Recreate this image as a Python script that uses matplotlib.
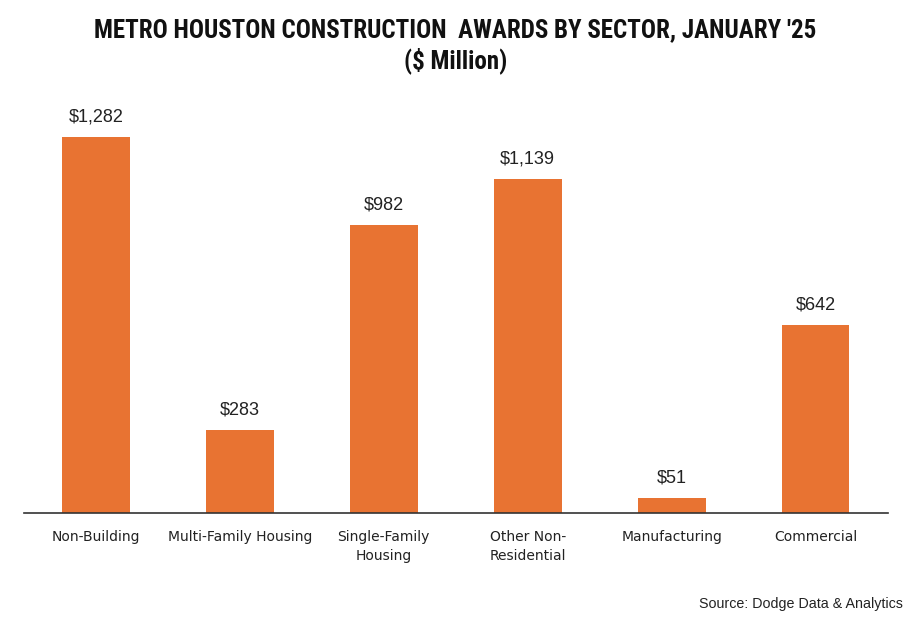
import matplotlib
matplotlib.use("Agg")
import matplotlib.pyplot as plt
from matplotlib import font_manager
from matplotlib.font_manager import FontProperties

categories = ["Non-Building", "Multi-Family Housing", "Single-Family\nHousing",
              "Other Non-\nResidential", "Manufacturing", "Commercial"]
values = [1282, 283, 982, 1139, 51, 642]
value_labels = ["$1,282", "$283", "$982", "$1,139", "$51", "$642"]

bar_color = "#E87332"

# find a bold condensed font file
cands = []
for f in font_manager.fontManager.ttflist:
    p = f.fname.lower()
    if "condensed" in p and "bold" in p and "italic" not in p and "semi" not in p and "extra" not in p:
        cands.append(f.fname)
pref = ["roboto", "noto", "opensans", "open", "dejavu", "liberation"]
cands.sort(key=lambda s: min([i for i, k in enumerate(pref) if k in s.lower()] + [99]))
if cands:
    tprop = FontProperties(fname=cands[0])
else:
    tprop = FontProperties(family="DejaVu Sans", weight="bold")

fig = plt.figure(figsize=(9.11, 6.19), dpi=100)
ax = fig.add_axes([0.0263, 0.1712, 0.948, 0.6672])
x = list(range(len(categories)))
ax.bar(x, values, width=0.47, color=bar_color)
ax.set_xlim(-0.5, 5.5)
ax.set_ylim(0, 1408)
for xi, v, lab in zip(x, values, value_labels):
    ax.annotate(lab, (xi, v), xytext=(0, 8), textcoords="offset points",
                ha="center", va="bottom", fontsize=13, color="#222222",
                family="Liberation Sans")
ax.set_xticks(x)
ax.set_xticklabels(categories, fontsize=10, family="DejaVu Sans", color="#222222",
                   linespacing=1.45)
ax.tick_params(axis="x", length=0, pad=12)
ax.set_yticks([])
for s in ["top", "right", "left"]:
    ax.spines[s].set_visible(False)
ax.spines["bottom"].set_color("#333333")
ax.spines["bottom"].set_linewidth(1.2)

t1 = fig.text(0.5, 1 - 30 / 619, "METRO HOUSTON CONSTRUCTION  AWARDS BY SECTOR, JANUARY '25",
              ha="center", va="center", fontproperties=tprop, color="#111111")
t2 = fig.text(0.5, 1 - 61 / 619, "($ Million)", ha="center", va="center",
              fontproperties=tprop, color="#111111")
t1.set_fontsize(15)
t2.set_fontsize(15)
fig.canvas.draw()
w = t1.get_window_extent().width
fs = 15 * 725 / w
t1.set_fontsize(fs)
t2.set_fontsize(fs)

fig.text(1 - 8 / 911, 1 - 604 / 619, "Source: Dodge Data & Analytics", ha="right",
         va="center", fontsize=10.3, family="Liberation Sans", color="#222222")

fig.savefig("out.png", dpi=100)
